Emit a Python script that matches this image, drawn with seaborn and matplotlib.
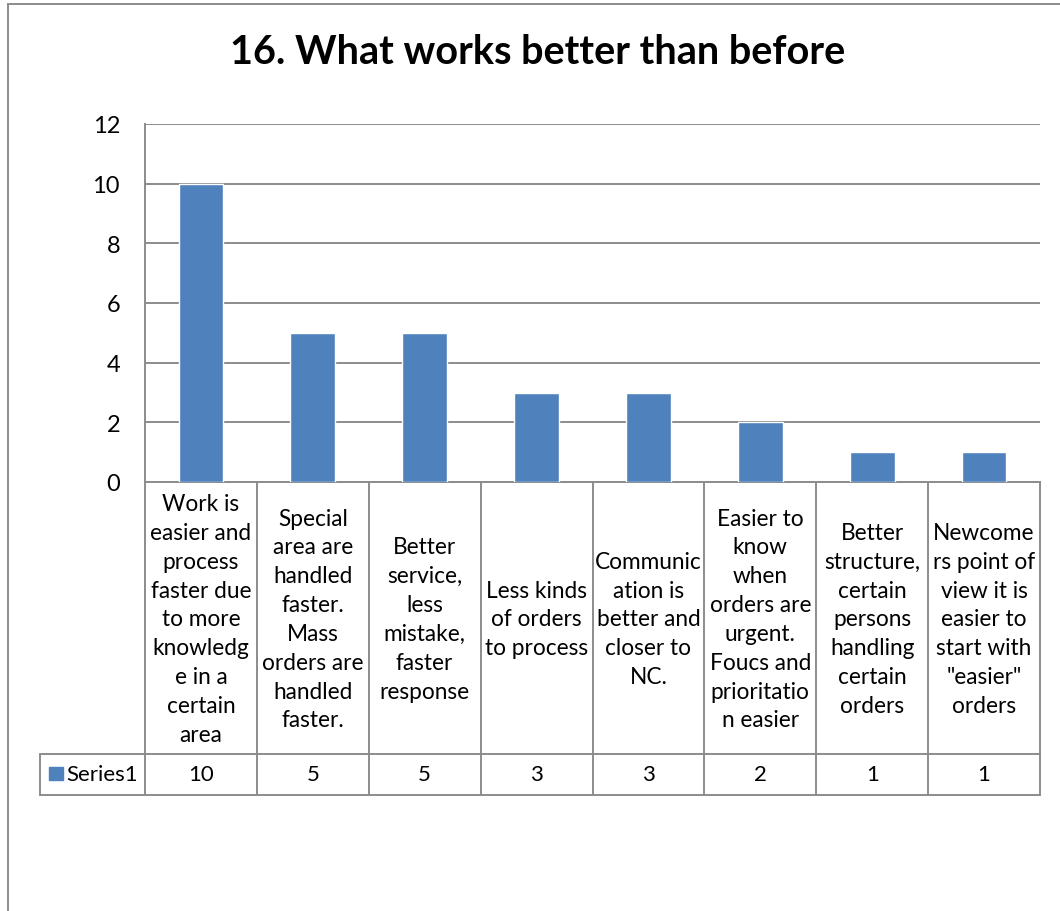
import matplotlib
matplotlib.use("Agg")
import matplotlib.pyplot as plt
import matplotlib.transforms as mtransforms
from matplotlib.lines import Line2D
from matplotlib.patches import Rectangle
import pandas as pd
import seaborn as sns

# ---- data ----
title = "16. What works better than before"
series_name = "Series1"
categories = [
    "Work is\neasier and\nprocess\nfaster due\nto more\nknowledg\ne in a\ncertain\narea",
    "Special\narea are\nhandled\nfaster.\nMass\norders are\nhandled\nfaster.",
    "Better\nservice,\nless\nmistake,\nfaster\nresponse",
    "Less kinds\nof orders\nto process",
    "Communic\nation is\nbetter and\ncloser to\nNC.",
    "Easier to\nknow\nwhen\norders are\nurgent.\nFoucs and\nprioritatio\nn easier",
    "Better\nstructure,\ncertain\npersons\nhandling\ncertain\norders",
    "Newcome\nrs point of\nview it is\neasier to\nstart with\n\"easier\"\norders",
]
values = [10, 5, 5, 3, 3, 2, 1, 1]
y_ticks = [0, 2, 4, 6, 8, 10, 12]

# ---- style ----
BAR = "#4F81BD"
LINE = "#8C8C8C"
W, H = 1060, 912

sns.set_theme(style="white")
plt.rcParams["font.family"] = ["Lato", "DejaVu Sans"]

fig = plt.figure(figsize=(W / 100, H / 100), dpi=100)


def fx(px):
    return px / W


def fy(py):
    return 1 - py / H


# plot area in pixel geometry
PL, PR, PT, PB = 145, 1040, 125, 483
ax = fig.add_axes([fx(PL), fy(PB), (PR - PL) / W, (PB - PT) / H])

df = pd.DataFrame({"category": categories, "value": values})
sns.barplot(data=df, x="category", y="value", color=BAR, saturation=1,
            width=0.4, ax=ax, zorder=3)

ax.set_ylim(y_ticks[0], y_ticks[-1])
ax.set_yticks(y_ticks)
ax.set_xlim(-0.5, len(categories) - 0.5)
ax.set_xticks([])
ax.set_xlabel("")
ax.set_ylabel("")
ax.tick_params(axis="y", labelsize=17, colors="black", length=0, pad=18)
ax.yaxis.grid(True, color=LINE, linewidth=1.4)
ax.set_axisbelow(True)
for side in ("top", "right"):
    ax.spines[side].set_visible(False)
for side in ("left", "bottom"):
    ax.spines[side].set_color(LINE)
    ax.spines[side].set_linewidth(1.4)

# ---- data table under the plot ----
tr = mtransforms.blended_transform_factory(ax.transData, fig.transFigure)
ROW1_BOT, ROW2_BOT = 755, 796
TL = 40
n = len(categories)

def hline(x0, x1, py, transform):
    fig.add_artist(Line2D([x0, x1], [fy(py), fy(py)], transform=transform,
                          color=LINE, linewidth=1.4, clip_on=False))

def vline(x, py0, py1, transform):
    fig.add_artist(Line2D([x, x], [fy(py0), fy(py1)], transform=transform,
                          color=LINE, linewidth=1.4, clip_on=False))

for i in range(n + 1):
    vline(i - 0.5, PB, ROW2_BOT, tr)
hline(fx(TL), fx(PR), ROW1_BOT, fig.transFigure)
hline(fx(TL), fx(PR), ROW2_BOT, fig.transFigure)
vline(fx(TL), ROW1_BOT, ROW2_BOT, fig.transFigure)

for i, (cat, val) in enumerate(zip(categories, values)):
    fig.text(i, fy((PB + ROW1_BOT) / 2 + 1), cat, transform=tr, ha="center",
             va="center", fontsize=16.3, linespacing=1.46, color="black")
    fig.text(i, fy((ROW1_BOT + ROW2_BOT) / 2), str(val), transform=tr,
             ha="center", va="center", fontsize=16, color="black")

# legend key + series name
fig.add_artist(Rectangle((fx(49), fy(781)), 14 / W, 13 / H,
                         transform=fig.transFigure, color=BAR))
fig.text(fx(66), fy((ROW1_BOT + ROW2_BOT) / 2), series_name, ha="left",
         va="center", fontsize=16, color="black")

# title
fig.text(fx(538), fy(52), title, ha="center", va="center", fontsize=28.5,
         fontweight="bold", color="black")

# chart frame
fig.add_artist(Rectangle((fx(8), fy(H + 20)), (W + 20) / W, (H + 15) / H,
                         transform=fig.transFigure, fill=False,
                         edgecolor=LINE, linewidth=1.4))

fig.savefig("out.png", dpi=100)
